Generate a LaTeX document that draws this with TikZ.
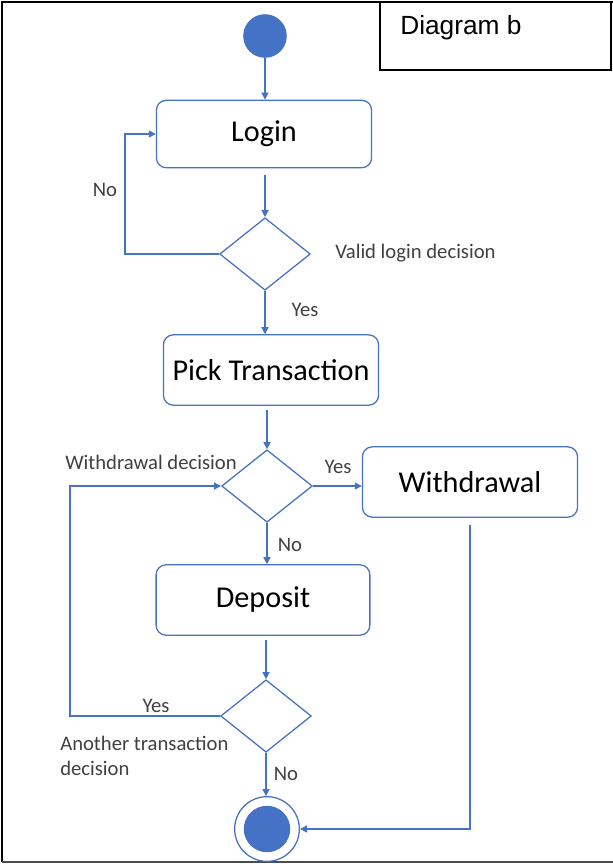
\documentclass[tikz,border=0pt]{standalone}
\usepackage{fontspec}
\setmainfont{Carlito}
\newfontfamily\arialfont{Liberation Sans}
\usetikzlibrary{shapes.geometric,arrows.meta}

\definecolor{umlblue}{HTML}{4472C4}

\begin{document}
\begin{tikzpicture}[x=0.025cm,y=-0.025cm,
  flow/.style={draw=umlblue,line width=0.9pt,-{Triangle[length=5pt,width=5pt]}},
  decision/.style={diamond,draw=umlblue,line width=0.9pt,aspect=1.25,
                   minimum width=64.5pt,minimum height=51.5pt,inner sep=0pt},
  lbl/.style={font=\fontsize{14.7}{17.5}\selectfont,text=black!75,inner sep=0pt}]
\useasboundingbox (0,0) rectangle (613,864);

% frame and title
\draw[line width=2pt] (613,2) -- (2,2) -- (2,862);
\draw[line width=1pt,black!70] (2,862) -- (613,862);
\draw[line width=1.4pt] (380,2) rectangle (611,70);
\node at (400,28) [anchor=west,inner sep=0pt,font=\arialfont\fontsize{18.7}{22}\selectfont] (title) {Diagram b};

% activities
\node at (265,36) [circle,fill=umlblue,minimum size=31pt,inner sep=0pt] (start) {};

\node at (264,134) [rectangle,rounded corners=7pt,draw=umlblue,line width=0.9pt,
      minimum width=153pt,minimum height=48pt,font=\fontsize{21.5}{25}\selectfont] (login) {Login};
\node at (265,254) [decision] (valid) {};

\node at (271,370) [rectangle,rounded corners=7pt,draw=umlblue,line width=0.9pt,
      minimum width=153pt,minimum height=50pt,font=\fontsize{21.5}{25}\selectfont] (pick) {Pick Transaction};
\node at (267,486) [decision] (wdec) {};
\node at (470,482) [rectangle,rounded corners=7pt,draw=umlblue,line width=0.9pt,
      minimum width=153pt,minimum height=50pt,font=\fontsize{21.5}{25}\selectfont] (withdraw) {Withdrawal};

\node at (263,600) [rectangle,rounded corners=7pt,draw=umlblue,line width=0.9pt,
      minimum width=152pt,minimum height=50pt,font=\fontsize{21.5}{25}\selectfont] (deposit) {Deposit};
\node at (266,716) [decision] (another) {};

\node at (267,829) [circle,draw=umlblue,line width=0.9pt,minimum size=46pt,inner sep=0pt] (stop) {};
\node at (267,829) [circle,fill=umlblue,minimum size=33pt,inner sep=0pt] (stopdot) {};

% labels
\node at (335,253) [lbl,anchor=west] (validlbl) {Valid login decision};
\node at (105,190) [lbl] (nolbl) {No};
\node at (305,310) [lbl] (yeslbl) {Yes};
\node at (65,462) [lbl,anchor=west] (wdeclbl) {Withdrawal decision};
\node at (338,467) [lbl] (yeswlbl) {Yes};
\node at (290,545) [lbl] (nowlbl) {No};
\node at (156,706) [lbl] (yesalbl) {Yes};
\node at (60,756) [lbl,anchor=west,align=left] (anotherlbl) {Another transaction\\decision};
\node at (286,774) [lbl] (noalbl) {No};

% connectors
\coordinate (loopa) at (125,0);
\coordinate (loopb) at (70,0);
\draw[flow] (start.south -| valid.north) -- (login.north -| valid.north);
\draw[flow] ([yshift=-5pt]login.south -| valid.north) -- (valid);
\draw[flow] (valid.west) -| (loopa |- login.west) -- (login.west);
\draw[flow] (valid) -- (pick.north -| valid.north);
\draw[flow] ([yshift=-3pt]pick.south -| wdec.north) -- (wdec);
\draw[flow] (wdec.east) -- (wdec.east -| withdraw.west);
\draw[flow] (wdec) -- (deposit.north -| wdec.south);
\draw[flow] ([yshift=-3pt]deposit.south -| another.north) -- (another);
\draw[flow] (another.west) -| (loopb |- wdec.west) -- (wdec.west);
\draw[flow] (another) -- (stop.north -| another.south);
\draw[flow] ([yshift=-5pt]withdraw.south) -- (withdraw.south |- stop.east) -- (stop.east);
\end{tikzpicture}
\end{document}
